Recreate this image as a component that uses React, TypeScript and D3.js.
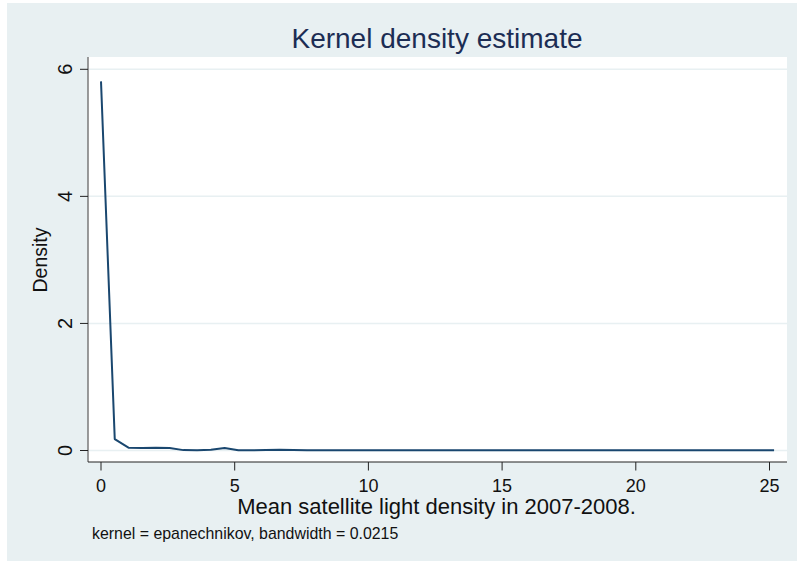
import React, { useEffect, useRef } from 'react';
import * as d3 from 'd3';

// evaluation points of the kernel density (50 points, min to max)
const lightLevels = [
  0, 0.514, 1.027, 1.541, 2.055, 2.568, 3.082, 3.596, 4.11, 4.623,
  5.137, 5.651, 6.164, 6.678, 7.192, 7.705, 8.219, 8.733, 9.247, 9.76,
  10.274, 10.788, 11.301, 11.815, 12.329, 12.842, 13.356, 13.87, 14.384, 14.897,
  15.411, 15.925, 16.438, 16.952, 17.466, 17.979, 18.493, 19.007, 19.521, 20.034,
  20.548, 21.062, 21.575, 22.089, 22.603, 23.116, 23.63, 24.144, 24.658, 25.171,
];

const densities = [
  5.81, 0.18, 0.045, 0.04, 0.042, 0.038, 0.006, 0.004, 0.01, 0.04,
  0.005, 0.004, 0.008, 0.01, 0.006, 0.004, 0.003, 0.003, 0.003, 0.003,
  0.003, 0.003, 0.003, 0.003, 0.003, 0.003, 0.003, 0.003, 0.003, 0.003,
  0.003, 0.003, 0.003, 0.003, 0.003, 0.003, 0.003, 0.003, 0.003, 0.003,
  0.003, 0.003, 0.003, 0.003, 0.003, 0.003, 0.003, 0.003, 0.003, 0.005,
];

const xTicks = [0, 5, 10, 15, 20, 25];
const yTicks = [0, 2, 4, 6];

const titleText = 'Kernel density estimate';
const xTitle = 'Mean satellite light density in 2007-2008.';
const yTitle = 'Density';
const noteText = 'kernel = epanechnikov, bandwidth = 0.0215';

const FONT = '"Liberation Sans", Arial, Helvetica, sans-serif';

function KdensityChart() {
  const ref = useRef<SVGSVGElement>(null);
  const width = 797;
  const height = 563;

  useEffect(() => {
    const svg = d3.select(ref.current);
    svg.selectAll('*').remove();
    svg.attr('width', width).attr('height', height);

    // graph region + plot region
    svg.append('rect')
      .attr('x', 7).attr('y', 3)
      .attr('width', 790).attr('height', 558)
      .attr('fill', '#e8f0f2');

    const plot = { left: 88, top: 57, right: 787, bottom: 462 };
    svg.append('rect')
      .attr('x', plot.left).attr('y', plot.top)
      .attr('width', plot.right - plot.left)
      .attr('height', plot.bottom - plot.top)
      .attr('fill', '#ffffff');

    const x = d3.scaleLinear().domain([0, 25]).range([101, 769.5]);
    const y = d3.scaleLinear().domain([0, 6]).range([450.5, 69.3]);

    // gridlines
    svg.append('g')
      .selectAll('line')
      .data(yTicks)
      .join('line')
      .attr('x1', plot.left).attr('x2', plot.right)
      .attr('y1', d => y(d)).attr('y2', d => y(d))
      .attr('stroke', '#e8f0f2')
      .attr('stroke-width', 1.5);

    // y axis
    const yAxis = svg.append('g');
    yAxis.append('line')
      .attr('x1', plot.left).attr('x2', plot.left)
      .attr('y1', plot.top).attr('y2', plot.bottom)
      .attr('stroke', '#7a7a7a')
      .attr('stroke-width', 1.5);
    yAxis.selectAll('line.tick')
      .data(yTicks)
      .join('line')
      .attr('class', 'tick')
      .attr('x1', 80).attr('x2', plot.left)
      .attr('y1', d => y(d)).attr('y2', d => y(d))
      .attr('stroke', '#222');
    yAxis.selectAll('text')
      .data(yTicks)
      .join('text')
      .attr('transform', d => `translate(72, ${y(d)}) rotate(-90)`)
      .attr('text-anchor', 'middle')
      .attr('font-family', FONT)
      .attr('font-size', 20)
      .attr('fill', '#111')
      .text(d => d);

    // x axis
    const xAxis = svg.append('g');
    xAxis.append('line')
      .attr('x1', plot.left).attr('x2', plot.right)
      .attr('y1', plot.bottom).attr('y2', plot.bottom)
      .attr('stroke', '#222')
      .attr('stroke-width', 1.2);
    xAxis.selectAll('line.tick')
      .data(xTicks)
      .join('line')
      .attr('class', 'tick')
      .attr('x1', d => x(d)).attr('x2', d => x(d))
      .attr('y1', plot.bottom).attr('y2', plot.bottom + 8.5)
      .attr('stroke', '#222');
    xAxis.selectAll('text')
      .data(xTicks)
      .join('text')
      .attr('x', d => x(d))
      .attr('y', 491.5)
      .attr('text-anchor', 'middle')
      .attr('font-family', FONT)
      .attr('font-size', 18)
      .attr('fill', '#111')
      .text(d => d);

    // density line
    const line = d3.line<number>()
      .x((_, i) => x(lightLevels[i]))
      .y(d => y(d));
    svg.append('path')
      .datum(densities)
      .attr('d', line)
      .attr('fill', 'none')
      .attr('stroke', '#1a476f')
      .attr('stroke-width', 2)
      .attr('stroke-linejoin', 'round');

    // titles
    svg.append('text')
      .attr('x', 437).attr('y', 48)
      .attr('text-anchor', 'middle')
      .attr('font-family', FONT)
      .attr('font-size', 28)
      .attr('fill', '#1c2d54')
      .text(titleText);

    svg.append('text')
      .attr('x', 436.5).attr('y', 514)
      .attr('text-anchor', 'middle')
      .attr('font-family', FONT)
      .attr('font-size', 22)
      .attr('fill', '#111')
      .text(xTitle);

    svg.append('text')
      .attr('transform', 'translate(46.5, 260) rotate(-90)')
      .attr('text-anchor', 'middle')
      .attr('font-family', FONT)
      .attr('font-size', 19.5)
      .attr('fill', '#111')
      .text(yTitle);

    svg.append('text')
      .attr('x', 92).attr('y', 539)
      .attr('font-family', FONT)
      .attr('font-size', 15.9)
      .attr('fill', '#111')
      .text(noteText);
  }, []);

  return <svg ref={ref} style={{ display: 'block' }}></svg>;
}

export default function App() {
  return (
    <div style={{ position: 'absolute', left: 0, top: 0 }}>
      <KdensityChart />
    </div>
  );
}
